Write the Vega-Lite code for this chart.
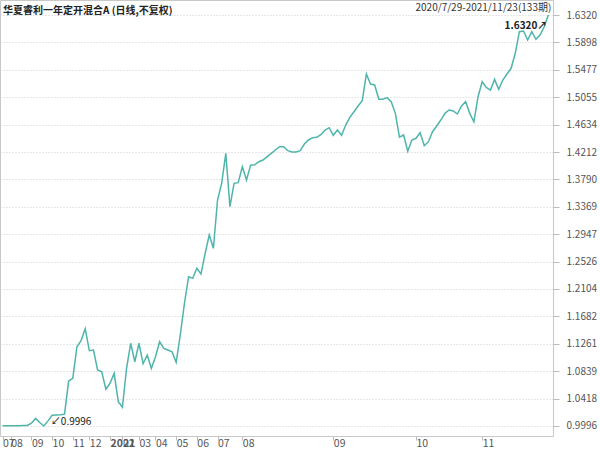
{
  "$schema": "https://vega.github.io/schema/vega-lite/v6.json",
  "width": 553,
  "height": 436,
  "padding": {"left": 0, "top": 0, "right": 47, "bottom": 15},
  "autosize": {"type": "none"},
  "background": "white",
  "config": {"view": {"stroke": "#c8c8c8", "strokeWidth": 1}, "font": "Noto Sans CJK SC"},
  "title": {"text": "华夏睿利一年定开混合A (日线,不复权)", "anchor": "start", "frame": "group", "offset": -16, "fontSize": 10, "fontWeight": "bold", "color": "#222", "dx": 3},
  "datasets": {
    "nav": [
      {"i":0,"v":1.0000},{"i":1,"v":1.0000},{"i":2,"v":0.9999},{"i":3,"v":1.0001},{"i":4,"v":1.0000},{"i":5,"v":1.0002},{"i":6,"v":1.0005},{"i":7,"v":1.0040},{"i":8,"v":1.0112},{"i":9,"v":1.0050},
      {"i":10,"v":0.9996},{"i":11,"v":1.0075},{"i":12,"v":1.0160},{"i":13,"v":1.0165},{"i":14,"v":1.0168},{"i":15,"v":1.0178},{"i":16,"v":1.0688},{"i":17,"v":1.0730},{"i":18,"v":1.1216},{"i":19,"v":1.1308},
      {"i":20,"v":1.1493},{"i":21,"v":1.1155},{"i":22,"v":1.1165},{"i":23,"v":1.0858},{"i":24,"v":1.0831},{"i":25,"v":1.0561},{"i":26,"v":1.0653},{"i":27,"v":1.0807},{"i":28,"v":1.0370},{"i":29,"v":1.0284},
      {"i":30,"v":1.0884},{"i":31,"v":1.1269},{"i":32,"v":1.0985},{"i":33,"v":1.1269},{"i":34,"v":1.0954},{"i":35,"v":1.1088},{"i":36,"v":1.0884},{"i":37,"v":1.1062},{"i":38,"v":1.1293},{"i":39,"v":1.1191},
      {"i":40,"v":1.1165},{"i":41,"v":1.1139},{"i":42,"v":1.0976},{"i":43,"v":1.1400},{"i":44,"v":1.1884},{"i":45,"v":1.2293},{"i":46,"v":1.2268},{"i":47,"v":1.2422},{"i":48,"v":1.2335},{"i":49,"v":1.2650},
      {"i":50,"v":1.2935},{"i":51,"v":1.2730},{"i":52,"v":1.3473},{"i":53,"v":1.3730},{"i":54,"v":1.4192},{"i":55,"v":1.3370},{"i":56,"v":1.3730},{"i":57,"v":1.3740},{"i":58,"v":1.3986},{"i":59,"v":1.3781},
      {"i":60,"v":1.4010},{"i":61,"v":1.4015},{"i":62,"v":1.4063},{"i":63,"v":1.4089},{"i":64,"v":1.4140},{"i":65,"v":1.4192},{"i":66,"v":1.4243},{"i":67,"v":1.4294},{"i":68,"v":1.4294},{"i":69,"v":1.4232},
      {"i":70,"v":1.4212},{"i":71,"v":1.4212},{"i":72,"v":1.4232},{"i":73,"v":1.4335},{"i":74,"v":1.4397},{"i":75,"v":1.4432},{"i":76,"v":1.4438},{"i":77,"v":1.4478},{"i":78,"v":1.4550},{"i":79,"v":1.4586},
      {"i":80,"v":1.4469},{"i":81,"v":1.4550},{"i":82,"v":1.4469},{"i":83,"v":1.4627},{"i":84,"v":1.4746},{"i":85,"v":1.4832},{"i":86,"v":1.4920},{"i":87,"v":1.5001},{"i":88,"v":1.5412},{"i":89,"v":1.5258},
      {"i":90,"v":1.5243},{"i":91,"v":1.5023},{"i":92,"v":1.5023},{"i":93,"v":1.5048},{"i":94,"v":1.4986},{"i":95,"v":1.4807},{"i":96,"v":1.4440},{"i":97,"v":1.4474},{"i":98,"v":1.4225},{"i":99,"v":1.4397},
      {"i":100,"v":1.4423},{"i":101,"v":1.4509},{"i":102,"v":1.4309},{"i":103,"v":1.4371},{"i":104,"v":1.4524},{"i":105,"v":1.4612},{"i":106,"v":1.4704},{"i":107,"v":1.4807},{"i":108,"v":1.4858},{"i":109,"v":1.4843},
      {"i":110,"v":1.4797},{"i":111,"v":1.4920},{"i":112,"v":1.4986},{"i":113,"v":1.4807},{"i":114,"v":1.4678},{"i":115,"v":1.5063},{"i":116,"v":1.5294},{"i":117,"v":1.5207},{"i":118,"v":1.5166},{"i":119,"v":1.5330},
      {"i":120,"v":1.5177},{"i":121,"v":1.5320},{"i":122,"v":1.5412},{"i":123,"v":1.5500},{"i":124,"v":1.5731},{"i":125,"v":1.6063},{"i":126,"v":1.6074},{"i":127,"v":1.5935},{"i":128,"v":1.6063},{"i":129,"v":1.5946},
      {"i":130,"v":1.6012},{"i":131,"v":1.6140},{"i":132,"v":1.6320}
    ],
    "header": [{"i": 132, "label": "2020/7/29-2021/11/23(133期)"}]
  },
  "encoding": {
    "x": {
      "field": "i", "type": "quantitative",
      "scale": {"domain": [-0.605, 133.13], "nice": false, "zero": false},
      "axis": {
        "orient": "bottom", "title": null, "grid": false, "domain": false,
        "values": [0, 2, 7, 12, 17, 21, 26, 29, 33, 37, 42, 47, 52, 58, 80, 100, 116],
        "labelExpr": "['07','08','09','10','11','12','2021','02','03','04','05','06','07','08','09','10','11'][indexof([0,2,7,12,17,21,26,29,33,37,42,47,52,58,80,100,116], datum.value)]",
        "ticks": true, "tickSize": 4, "tickColor": "#bbbbbb",
        "labelAlign": "left", "labelBaseline": "top", "labelDx": 2, "labelPadding": -2,
        "labelFontSize": 10.5, "labelColor": "#555555",
        "labelFontWeight": {"condition": {"test": "datum.value == 26", "value": "bold"}, "value": "normal"},
        "labelOverlap": false, "labelFlush": false, "labelBound": false
      }
    },
    "y": {
      "field": "v", "type": "quantitative",
      "scale": {"domain": [0.9842, 1.6551], "nice": false, "zero": false},
      "axis": {
        "orient": "right", "title": null, "domain": false,
        "values": [0.9996, 1.0418, 1.0839, 1.1261, 1.1682, 1.2104, 1.2526, 1.2947, 1.3369, 1.379, 1.4212, 1.4634, 1.5055, 1.5477, 1.5898, 1.632],
        "format": ".4f",
        "grid": true, "gridDash": [1, 2], "gridColor": "#cfcfcf",
        "tickSize": 6, "tickColor": "#bbbbbb",
        "labelPadding": 7, "labelFontSize": 10, "labelColor": "#555555", "labelBound": false, "labelFlush": false
      }
    }
  },
  "layer": [
    {
      "data": {"name": "nav"},
      "mark": {"type": "line", "color": "#4fb5ab", "strokeWidth": 1.5}
    },
    {
      "data": {"name": "nav"},
      "transform": [{"filter": "datum.i == 10"}, {"calculate": "'↙' + format(datum.v, '.4f')", "as": "label"}],
      "mark": {"type": "text", "align": "left", "baseline": "middle", "dx": 7, "dy": -4, "fontSize": 10, "color": "#222222"},
      "encoding": {"text": {"field": "label"}}
    },
    {
      "data": {"name": "nav"},
      "transform": [{"filter": "datum.i == 132"}, {"calculate": "format(datum.v, '.4f') + '↗'", "as": "label"}],
      "mark": {"type": "text", "align": "right", "baseline": "middle", "dx": -1, "dy": 11, "fontSize": 10, "fontWeight": "bold", "color": "#222222"},
      "encoding": {"text": {"field": "label"}}
    },
    {
      "data": {"name": "header"},
      "mark": {"type": "text", "align": "right", "baseline": "middle", "dx": 3, "fontSize": 10, "color": "#333333"},
      "encoding": {"y": {"value": 8}, "text": {"field": "label"}}
    }
  ]
}
